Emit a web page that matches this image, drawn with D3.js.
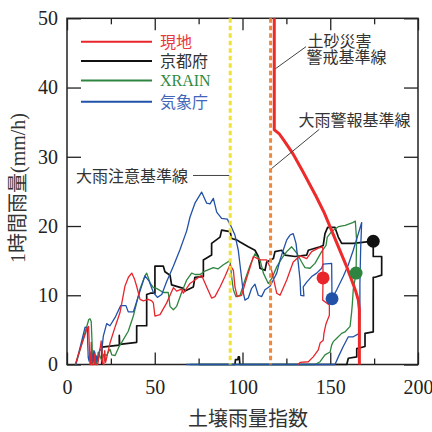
<!DOCTYPE html>
<html><head><meta charset="utf-8">
<script src="https://cdn.jsdelivr.net/npm/d3@7"></script>
<style>
html,body{margin:0;padding:0;background:#fff;}
svg{display:block;}
</style></head>
<body>
<svg id="chart" width="432" height="432"></svg>
<script>
// ---- data ----
const seriesNames = ["現地", "京都府", "XRAIN", "気象庁"];
const genchi = [[4.7,0],[8,2.6],[11.6,5.3],[12.3,5.5],[12.8,2],[13.1,0],[13.6,0],[13.8,3.2],[14.2,0],[15.5,0],[15.8,1.5],[16.3,0],[17.5,0],[19.5,3.4],[20.2,0.2],[21,0],[21.5,2],[22,0.3],[24.5,3.1],[27.5,5.5],[30.2,7.5],[33,11.3],[35,12.6],[36.9,13.2],[38.5,12.3],[39.7,11.3],[41.6,9.4],[43.5,9.2],[46.3,9.4],[48.3,9.2],[49.2,8.9],[50.1,7.0],[53,7.2],[56.8,8.9],[60.6,11.1],[62.5,10.6],[65.3,10.9],[66.3,10.3],[70.1,11.7],[72.9,12.2],[76.7,12.9],[79.6,11.2],[82.4,9.6],[84.3,9.8],[87.2,11.2],[90,12.7],[92.9,14.4],[94.8,13.6],[95.7,11.2],[97,9.8],[99.5,10],[102.4,12.5],[104.3,14],[106.2,15.6],[110,15.1],[113.8,15.1],[116.6,13.6],[119.5,10.3],[121.4,10],[125.2,12.2],[128.9,14.8],[132.8,15.7],[136.6,15.3],[139.4,16.3],[143.2,16.8],[145.7,17],[145.9,12.5],[145.7,9.3],[149.5,8.6],[149.5,7.1],[147.6,5.9],[146.4,4.5],[146,3.5],[144.2,3.1],[143.2,2.1],[140.3,1.1],[137.5,0.4],[132.8,0.3],[131.8,0]];
const kyotofu = [[19.8,0],[19.8,2.5],[29.8,2.8],[29.8,4.2],[30,2.9],[39.7,3.2],[39.7,5.6],[45.4,5.6],[45.4,10.1],[47.5,10.3],[50.1,10.3],[50.1,14.2],[54.9,14.2],[55.8,13.4],[58.7,12.9],[59.6,11.5],[66.3,11],[67.2,10.6],[72,11.2],[72.9,12.6],[77.7,12.7],[77.7,15.1],[82.4,15.8],[82.4,17.5],[87.2,18.4],[88.1,19.4],[92.9,19.2],[93.8,18.2],[96.7,18],[98.6,17.7],[103.3,17],[107.1,16.5],[109,15.6],[110,13.9],[112.8,13.6],[113.8,14.8],[117.6,15.3],[118.5,16.3],[122.3,16.5],[124.2,15.8],[129.9,15.6],[136.6,15.8],[137.5,16.5],[144.2,17],[146,17.2],[147,18.9],[148.5,19.8],[152.7,19.8],[154.6,18.4],[156.5,17.5],[163.1,17.5],[170.8,17.7],[174.5,17.8],[174.5,15.6],[179.3,15.6],[179.3,12.9],[175.5,12.6],[174.5,12.6],[174.5,4.7],[169.8,4.5],[169.8,2.6],[165.1,2.3],[165.1,1.1],[160.3,0.9],[159.4,0],[98.5,0],[98.2,1.1],[97.6,1.1],[97.4,0.7],[96,0.7],[95.7,0],[75,0]];
const xrain = [[5,0],[9,3.5],[12.4,6.5],[13.1,6.6],[13.8,6.2],[14.3,3],[14.6,0],[15.2,1.2],[15.8,0.3],[16.5,1.3],[17,0],[17.8,1.8],[18.8,1.2],[20,0.5],[21,1.5],[22.5,1.3],[24.5,2.2],[25.5,1.4],[27.4,1.3],[29.5,2.5],[32.1,3.6],[34.9,4.8],[37.8,7],[41.6,10.9],[44.4,12.8],[45.4,13.2],[47.3,11.8],[49.2,11.1],[51,11],[54.9,10.4],[57.7,10.4],[58.7,8.4],[60.6,7.9],[62.5,8.4],[65.3,10.4],[68.2,12.2],[71,13.2],[73,13],[75.8,13],[78.6,13.5],[83.4,14],[86,13.8],[89.1,14.4],[92.9,15],[93.8,12.7],[94.8,10.8],[96.3,9.8],[98.6,10],[101.4,12.2],[104.3,14.3],[107.1,16],[110,15.1],[111.9,13.2],[114.7,11.7],[116.6,12.4],[119.5,14.1],[122.3,15.3],[125.2,16.3],[128,17],[130.9,16.1],[133.7,14.8],[135.6,14],[138.5,13.9],[141.3,14.6],[145.1,16.3],[147.6,17.2],[148.3,18.4],[150.8,19.2],[154.6,19.9],[158.5,20.1],[162.8,20.5],[164.3,20.7],[165,18],[164.7,13.2],[163.1,10.8],[162.6,8.8],[162.2,7.6],[161.3,5.5],[158.4,4.7],[156.5,4.5],[153.7,3.8],[151.7,3.3],[150.8,2.8],[149.9,1.8],[147,1.4],[144.2,0.4],[141.3,0],[70,0]];
const jma = [[5,0],[8,3],[10.3,5.4],[11.6,5.3],[11.8,3],[12.1,1],[12.6,0.5],[13.1,1.8],[13.6,0],[14.2,1.5],[14.8,0.3],[15.3,2],[15.9,1.7],[16.3,0.2],[17,1.2],[17.8,0.5],[18.6,2.2],[19.8,2],[20.7,4.1],[22.6,5.9],[24.5,5.6],[27.4,6.8],[30.6,8.5],[33.6,8.5],[34.9,7.6],[37.8,7.6],[41.6,10.6],[44.4,12.8],[46.9,12],[49.2,10.4],[51.5,9.7],[54,10.1],[56.8,12],[60.6,14.2],[64.4,16.6],[68.2,19.3],[70.1,21.3],[72.9,23.3],[76.7,24.9],[79.6,23.3],[81.5,23.2],[83.4,24],[85.3,22],[88.1,21.1],[91.3,21],[93.2,20.1],[95.7,18.7],[97.6,16.5],[99,13.5],[100.5,10.3],[101.4,9.3],[103.3,9.6],[105.2,11],[107.1,11.6],[109,10],[110.9,9.8],[112.8,10.8],[115.7,11.3],[117.5,12.2],[119.5,13.2],[121.4,15.1],[123.2,16.5],[125.2,18],[127.1,18.7],[128.9,18.9],[130.5,17.5],[131.8,14.6],[132.8,12.2],[133.2,10],[135,9.9],[134.6,11.2],[136.6,11.9],[139.4,12.7],[142.3,13.2],[145.1,13.9],[146,14.5],[150.8,14.6],[151,9.5],[153.7,10.8],[157.4,12.7],[160.3,14.4],[163.1,16.5],[166,18.9],[167.9,20.5],[167.3,16.5],[166.9,11.7],[166.9,7.9],[166.6,4.5],[163.1,4],[160.3,4],[157.4,2.6],[154.6,1.1],[152.7,0],[68,0]];
// disaster-time markers (soil water index, hourly rain)
const markers = [[145.9,12.5],[174.5,17.8],[164.7,13.2],[151,9.5]];
// 土砂災害警戒基準線 (CL)
const clLine = [[118.1,50],[118.1,33.9],[121,33.3],[123.8,32.3],[128.6,30.5],[134.3,27.9],[141.9,24.3],[146.6,21.9],[151.7,18.8],[155.6,16.4],[159.4,14.1],[162.5,12],[164.5,10.6],[166,9.3],[166.6,7.9],[166.6,0]];
const chuiX = 93;    // 大雨注意基準線
const keihoX = 116;  // 大雨警報基準線
const xMajor = [0,50,100,150,200];
const xMinor = [25,75,125,175];
const yMajor = [0,10,20,30,40,50];
const labels = {x:"土壌雨量指数", y:"1時間雨量(mm/h)", chui:"大雨注意基準線", keiho:"大雨警報基準線", cl1:"土砂災害", cl2:"警戒基準線"};

// ---- drawing ----
const colors = ["#e8252b", "#111111", "#2e8540", "#2251a8"];
const textColors = ["#e8393f", "#333333", "#2f8a40", "#4066bb"];
const serif = '"Liberation Serif","Noto Sans CJK JP",serif';
const svg = d3.select("#chart");
const x = d3.scaleLinear().domain([0,200]).range([67,418]);
const y = d3.scaleLinear().domain([0,50]).range([364.5,18.3]);

// frame
svg.append("rect").attr("x",x(0)).attr("y",y(50)).attr("width",x(200)-x(0)).attr("height",y(0)-y(50))
  .attr("fill","none").attr("stroke","#222").attr("stroke-width",1.5);

function styleAxis(g){ g.select(".domain").remove(); g.selectAll("line").attr("stroke","#222").attr("stroke-width",1.3);
  g.selectAll("text").attr("font-family",serif).attr("font-size",20).attr("fill","#222"); }
svg.append("g").attr("transform",`translate(0,${y(0)})`).call(d3.axisBottom(x).tickValues(xMajor).tickSize(-12).tickPadding(15).tickFormat(d3.format("d"))).call(styleAxis);
svg.append("g").attr("transform",`translate(0,${y(0)})`).call(d3.axisBottom(x).tickValues(xMinor).tickSize(-6).tickFormat("")).call(styleAxis);
svg.append("g").attr("transform",`translate(0,${y(50)})`).call(d3.axisTop(x).tickValues(xMajor).tickSize(-12).tickFormat("")).call(styleAxis);
svg.append("g").attr("transform",`translate(0,${y(50)})`).call(d3.axisTop(x).tickValues(xMinor).tickSize(-6).tickFormat("")).call(styleAxis);
svg.append("g").attr("transform",`translate(${x(0)},0)`).call(d3.axisLeft(y).tickValues(yMajor).tickSize(-14).tickPadding(9).tickFormat(d3.format("d"))).call(styleAxis);
svg.append("g").attr("transform",`translate(${x(200)},0)`).call(d3.axisRight(y).tickValues(yMajor).tickSize(-14).tickFormat("")).call(styleAxis);

// series
const line = d3.line().x(d=>x(d[0])).y(d=>y(d[1]));
const allSeries = [genchi, kyotofu, xrain, jma];
const drawOrder = [1,2,3,0];
drawOrder.forEach(i=>{
  svg.append("path").datum(allSeries[i]).attr("d",line).attr("fill","none")
    .attr("stroke",colors[i]).attr("stroke-width", i===1?1.7:1.3).attr("stroke-linejoin","round");
});

// threshold lines
svg.append("line").attr("x1",x(chuiX)).attr("x2",x(chuiX)).attr("y1",y(50)).attr("y2",y(0))
  .attr("stroke","#f0e232").attr("stroke-width",3).attr("stroke-dasharray","4.5,3");
svg.append("line").attr("x1",x(keihoX)).attr("x2",x(keihoX)).attr("y1",y(50)).attr("y2",y(0))
  .attr("stroke","#ef8838").attr("stroke-width",3).attr("stroke-dasharray","4.5,3");
svg.append("path").datum(clLine).attr("d",line).attr("fill","none").attr("stroke","#ee2a2a").attr("stroke-width",3);

// markers
svg.selectAll("circle.m").data(markers).join("circle").attr("class","m")
  .attr("cx",d=>x(d[0])).attr("cy",d=>y(d[1])).attr("r",6.5).attr("fill",(d,i)=>colors[i]);

// legend
const legY = [41.7, 61, 80.5, 101.7];
seriesNames.forEach((n,i)=>{
  svg.append("line").attr("x1",81).attr("x2",152).attr("y1",legY[i]).attr("y2",legY[i]).attr("stroke",colors[i]).attr("stroke-width",2);
  svg.append("text").attr("x",160).attr("y",legY[i]+5.8).text(n).attr("font-family",serif).attr("font-size",16).attr("fill",textColors[i]);
});

// annotations
const ann = svg.append("g").attr("font-family",serif).attr("font-size",16).attr("fill","#333");
ann.append("text").attr("x",188).attr("y",181.5).attr("text-anchor","end").text(labels.chui);
ann.append("line").attr("x1",193).attr("x2",x(chuiX)-1).attr("y1",y(27.3)).attr("y2",y(27.3)).attr("stroke","#444").attr("stroke-width",1);
ann.append("text").attr("x",307.5).attr("y",47).text(labels.cl1);
ann.append("text").attr("x",306.5).attr("y",63).text(labels.cl2);
ann.append("line").attr("x1",306).attr("y1",46.7).attr("x2",x(118.1)+1).attr("y2",y(42.7)).attr("stroke","#444").attr("stroke-width",1);
ann.append("text").attr("x",298.5).attr("y",126).text(labels.keiho);
ann.append("line").attr("x1",319.3).attr("y1",129.3).attr("x2",x(keihoX)+1).attr("y2",y(28.3)).attr("stroke","#444").attr("stroke-width",1);

// axis titles
svg.append("text").attr("x",248).attr("y",426).attr("text-anchor","middle").text(labels.x)
  .attr("font-family",serif).attr("font-size",20).attr("fill","#333");
svg.append("text").attr("transform","translate(25,188) rotate(-90)").attr("text-anchor","middle").text(labels.y)
  .attr("font-family",serif).attr("font-size",20).attr("fill","#333");
</script>
</body></html>
